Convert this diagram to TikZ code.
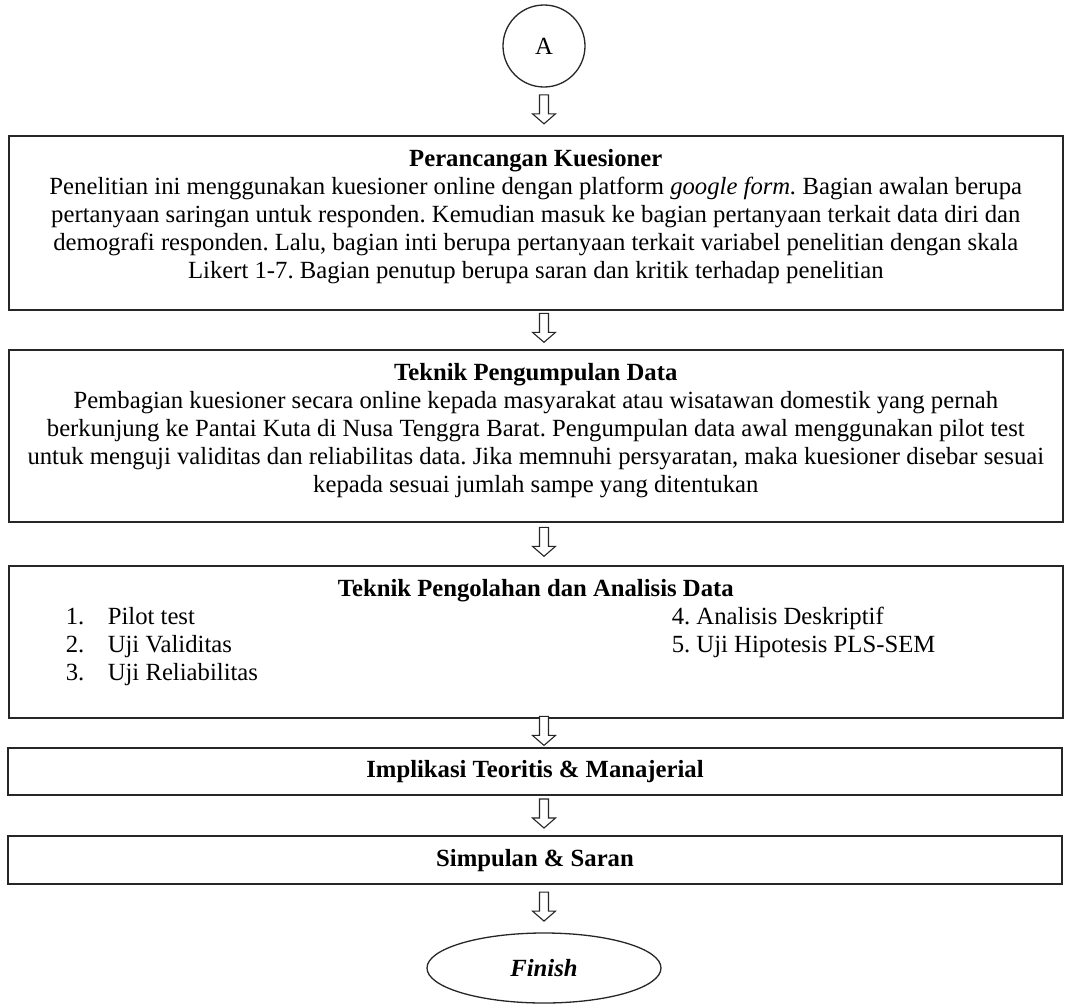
\documentclass[tikz,border=0pt]{standalone}
\usepackage{fontspec}
\setmainfont{Liberation Serif}
\usetikzlibrary{calc,shapes.geometric}
\frenchspacing

% hollow block arrow between two stacked nodes, on the axis of the start circle
\newcommand\flowarrow[2]{%
  \draw[hollowarrow] let \p1=(A.center), \p2=(#1.south), \p3=(#2.north),
      \p4=(0,{0.5*(\y2+\y3)}) in
    (\x1-4.5bp,\y4+16.5bp) -- (\x1+4.5bp,\y4+16.5bp)
    -- (\x1+4.5bp,\y4-2.5bp) -- (\x1+11.5bp,\y4-2.5bp)
    -- (\x1,\y4-12.5bp) -- (\x1-11.5bp,\y4-2.5bp)
    -- (\x1-4.5bp,\y4-2.5bp) -- cycle;}

\begin{document}
\begin{tikzpicture}[x=1bp,y=-1bp,
  every node/.style={font=\fontsize{24.7bp}{28bp}\selectfont},
  box/.style={draw=black!85, line width=1.6bp, inner sep=0pt},
  terminal/.style={draw=black!85, line width=1.3bp, inner sep=0pt},
  hollowarrow/.style={draw=black!85, line width=1.1bp, fill=white, line join=miter}]

\useasboundingbox (0,0) rectangle (1068,1004);

% start connector
\node[terminal, circle, minimum size=82bp] (A) at (544,46) {A};

% questionnaire design
\node[box, anchor=north west] (b1) at (8,135) {%
  \begin{minipage}[t][174bp][t]{1054bp}\centering
  \rule{0pt}{31bp}\textbf{Perancangan Kuesioner}\\
  Penelitian ini menggunakan kuesioner online dengan platform \textit{google form.} Bagian awalan berupa\\
  pertanyaan saringan untuk responden. Kemudian masuk ke bagian pertanyaan terkait data diri dan\\
  demografi responden. Lalu, bagian inti berupa pertanyaan terkait variabel penelitian dengan skala\\
  Likert 1-7. Bagian penutup berupa saran dan kritik terhadap penelitian
  \end{minipage}};

% data collection
\node[box, anchor=north west] (b2) at (8,349) {%
  \begin{minipage}[t][172bp][t]{1054bp}\centering
  \rule{0pt}{31bp}\textbf{Teknik Pengumpulan Data}\\
  Pembagian kuesioner secara online kepada masyarakat atau wisatawan domestik yang pernah\\
  berkunjung ke Pantai Kuta di Nusa Tenggra Barat. Pengumpulan data awal menggunakan pilot test\\
  untuk menguji validitas dan reliabilitas data. Jika memnuhi persyaratan, maka kuesioner disebar sesuai\\
  kepada sesuai jumlah sampe yang ditentukan
  \end{minipage}};

% processing and analysis
\node[box, anchor=north west] (b3) at (8,565) {%
  \begin{minipage}[t][152bp][t]{1054bp}\centering
  \rule{0pt}{31bp}\textbf{Teknik Pengolahan dan Analisis Data}\\
  \makebox[\linewidth][l]{\hspace*{57bp}\makebox[42bp][l]{1.}\makebox[564bp][l]{Pilot test}4. Analisis Deskriptif}\\
  \makebox[\linewidth][l]{\hspace*{57bp}\makebox[42bp][l]{2.}\makebox[564bp][l]{Uji Validitas}5. Uji Hipotesis PLS-SEM}\\
  \makebox[\linewidth][l]{\hspace*{57bp}\makebox[42bp][l]{3.}Uji Reliabilitas}
  \end{minipage}};

% implications
\node[box, minimum width=1054bp, minimum height=47bp, text height=17bp, text depth=5bp]
  (b4) at (535,771.5) {\textbf{Implikasi Teoritis \& Manajerial}};

% conclusions
\node[box, minimum width=1054bp, minimum height=48bp, text height=17bp, text depth=5bp]
  (b5) at (535,860) {\textbf{Simpulan \& Saran}};

% end terminal
\node[terminal, ellipse, minimum width=234bp, minimum height=70bp] (fin) at (544,968)
  {\textbf{\textit{Finish}}};

% connectors
\flowarrow{A}{b1}
\flowarrow{b1}{b2}
\flowarrow{b2}{b3}
\flowarrow{b3}{b4}
\flowarrow{b4}{b5}
\flowarrow{b5}{fin}

\end{tikzpicture}
\end{document}
